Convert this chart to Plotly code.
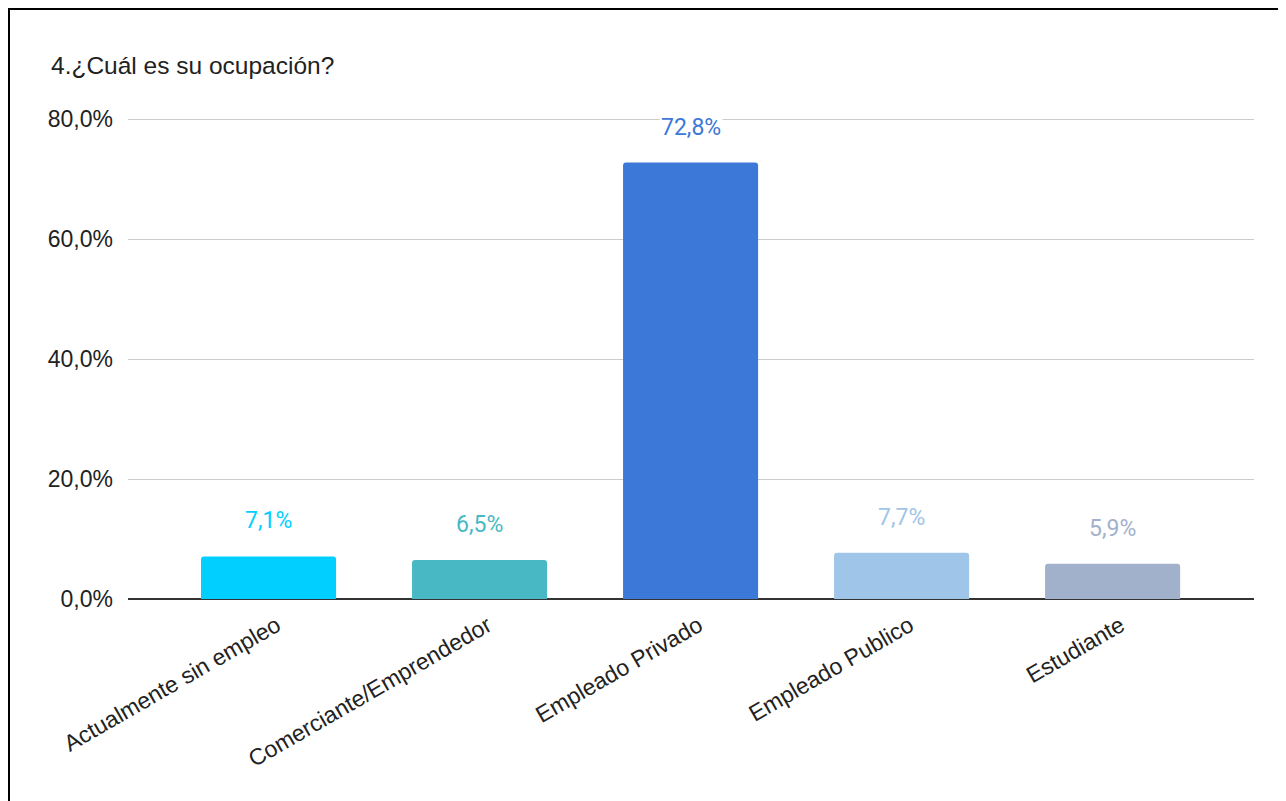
import plotly.graph_objects as go

categories = ["Actualmente sin empleo", "Comerciante/Emprendedor", "Empleado Privado",
              "Empleado Publico", "Estudiante"]
values = [7.1, 6.5, 72.8, 7.7, 5.9]
colors = ["#00CFFF", "#48B9C4", "#3C78D8", "#9FC5E8", "#A2B1CB"]
value_labels = ["7,1%", "6,5%", "72,8%", "7,7%", "5,9%"]
y_ticks = [0, 20, 40, 60, 80]
y_tick_labels = ["0,0%", "20,0%", "40,0%", "60,0%", "80,0%"]
title_text = "4.¿Cuál es su ocupación?"

# page body has an 8px margin; plot area sits at screen x 128..1254, y 117..599
PL, PR, PT, PB = 128, 1254, 117, 599
PW, PH = PR - PL, PB - PT
Y_MAX = 80.4

fig = go.Figure()
fig.add_trace(go.Bar(
    x=list(range(len(categories))), y=values,
    marker=dict(color=colors, line=dict(width=0)),
    width=0.64, hoverinfo="skip",
))

for i, (v, lab, c) in enumerate(zip(values, value_labels, colors)):
    fig.add_annotation(x=i, y=v, xref="x", yref="y", text=lab, showarrow=False,
                       yanchor="bottom", yshift=20, bgcolor="white",
                       font=dict(family="Roboto", size=23, color=c))

fig.add_annotation(x=(49 - PL) / PW, y=(PB - 66) / PH, xref="paper", yref="paper",
                   text=title_text, showarrow=False, xanchor="left", yanchor="middle",
                   font=dict(family="Liberation Sans, Arial", size=24.5, color="#222222"))

# frame
fig.add_shape(type="rect", xref="paper", yref="paper",
              x0=(8.5 - PL) / PW, x1=(1300 - PL) / PW,
              y0=(PB - 815) / PH, y1=(PB - 8.5) / PH,
              line=dict(color="black", width=3), layer="above")

fig.update_layout(
    width=1278, height=793,
    margin=dict(l=PL - 8, r=1286 - PR, t=PT - 8, b=801 - PB),
    paper_bgcolor="white", plot_bgcolor="white",
    separators=",.",
    showlegend=False,
    barcornerradius=3,
    font=dict(family="Liberation Sans, Arial", size=23, color="#222222"),
    xaxis=dict(
        range=[-0.666, 4.67],
        tickmode="array", tickvals=list(range(len(categories))), ticktext=categories,
        tickangle=-30, showgrid=False, zeroline=False, showline=False,
        ticks="", ticklabelshift=8, ticklabelstandoff=8,
        tickfont=dict(family="Liberation Sans, Arial", size=23, color="#222222"),
        fixedrange=True,
    ),
    yaxis=dict(
        range=[0, Y_MAX], tickmode="array", tickvals=y_ticks, ticktext=y_tick_labels,
        showgrid=True, gridcolor="#CCCCCC", gridwidth=1,
        zeroline=True, zerolinecolor="#333333", zerolinewidth=1.5,
        showline=False, ticks="", ticklabelstandoff=14,
        tickfont=dict(family="Liberation Sans, Arial", size=23, color="#222222"),
        fixedrange=True,
    ),
)

fig.write_html("out.html", config={"displayModeBar": False})
